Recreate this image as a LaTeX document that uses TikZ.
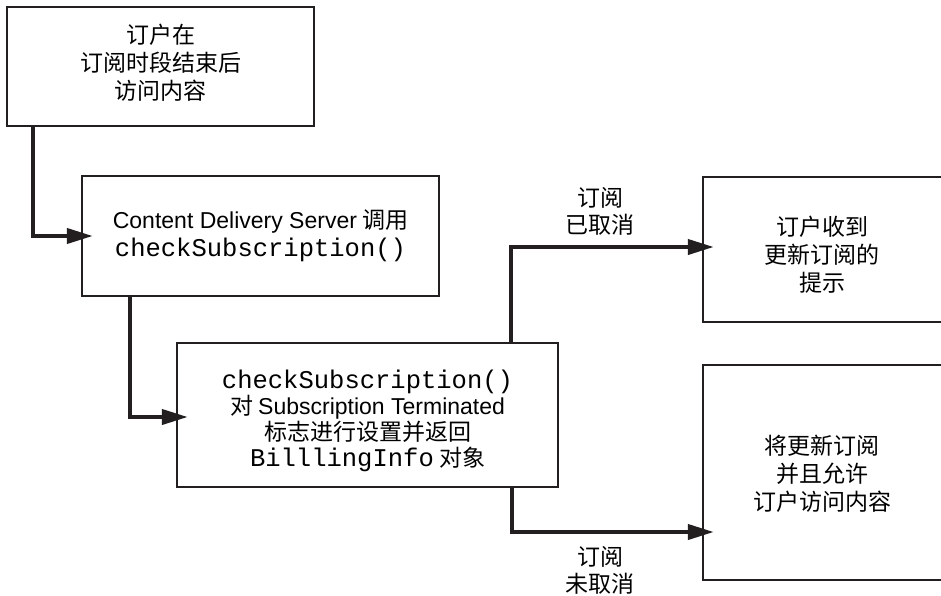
\documentclass[tikz,border=0pt]{standalone}
\usepackage{fontspec}
\setmainfont{Liberation Sans}
\newfontfamily\cjk{Noto Sans CJK SC}
\newfontfamily\monof[Scale=1.11]{Liberation Mono}
\usetikzlibrary{arrows.meta}
\definecolor{ink}{HTML}{231F20}
\tikzset{
  box/.style={draw=ink, line width=2.4pt, inner sep=0pt},
  txt/.style={align=center, font=\fontsize{23}{28}\selectfont\cjk, text=black},
  conn/.style={draw=ink, line width=4pt, -{Triangle[length=26pt,width=15pt]},
               shorten >=-11pt}
}
\begin{document}
\begin{tikzpicture}[x=1pt,y=-1pt]
  \useasboundingbox (0,0) rectangle (941,595);
  \clip (0,0) rectangle (941,595);
  \fill[white] (0,0) rectangle (941,595);

  % boxes
  \draw[box] (7,7) rectangle (314,126);
  \draw[box] (82,176) rectangle (439,296);
  \draw[box] (177,343) rectangle (558,487);
  \draw[box] (703,177) rectangle (960,322);
  \draw[box] (703,365) rectangle (960,580);

  % anchor nodes spanning each box
  \node[inner sep=0pt, minimum width=307pt, minimum height=119pt] (b1) at (160.5,66.5) {};
  \node[inner sep=0pt, minimum width=357pt, minimum height=120pt] (b2) at (260.5,236) {};
  \node[inner sep=0pt, minimum width=381pt, minimum height=144pt] (b3) at (367.5,415) {};
  \node[inner sep=0pt, minimum width=257pt, minimum height=145pt] (b4) at (831.5,249.5) {};
  \node[inner sep=0pt, minimum width=257pt, minimum height=215pt] (b5) at (831.5,472.5) {};

  % box texts
  \node[txt] (t1) at (160.5,63) {订户在\\订阅时段结束后\\访问内容};
  \node[txt] (t2) at (260.5,236) {{\rmfamily Content Delivery Server} 调用\\{\monof checkSubscription()}};
  \node[txt, font=\fontsize{23}{26}\selectfont\cjk] (t3) at (367.5,421) {{\monof checkSubscription()}\\对 {\rmfamily Subscription Terminated}\\标志进行设置并返回\\{\monof BilllingInfo} 对象};
  \node[txt] (t4) at (822,255) {订户收到\\更新订阅的\\提示};
  \node[txt] (t5) at (822,474) {将更新订阅\\并且允许\\订户访问内容};

  % branch labels
  \node[txt, font=\fontsize{23}{27}\selectfont\cjk] (l1) at (600,211) {订阅\\已取消};
  \node[txt, font=\fontsize{23}{27}\selectfont\cjk] (l2) at (600,570) {订阅\\未取消};

  % connectors
  \coordinate (c5) at ([yshift=-59.5pt]b5.west);
  \coordinate (c4) at ([yshift=2.5pt]b4.west);
  \draw[conn] ([xshift=26pt]b1.south west) |- (b2.west);
  \draw[conn] ([xshift=48pt]b2.south west) |- ([yshift=-2pt]b3.west);
  \draw[conn] ([xshift=-47pt]b3.north east) |- (c4);
  \draw[conn] ([xshift=-46pt]b3.south east) |- (c5);
\end{tikzpicture}
\end{document}
